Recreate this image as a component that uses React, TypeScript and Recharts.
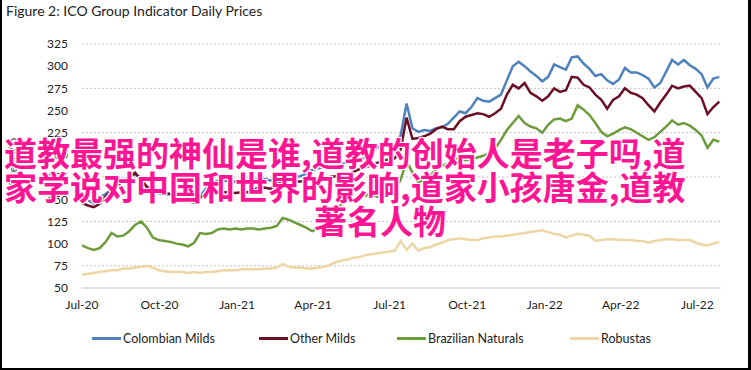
import React from "react";
import { LineChart, Line, XAxis, YAxis, CartesianGrid, Legend } from "recharts";

// weekly readings, starting 1 Jul 2020 (US cents/lb)
const colombianMilds = [
  153, 149, 145, 152, 156, 161, 166, 170, 176, 178, 174, 163, 158, 157, 155, 156, 153, 152, 148, 146,
  153, 162, 168, 171, 172, 169, 170, 167, 168, 171, 174, 173, 171, 174, 179, 177, 175, 176, 179, 183,
  185, 186, 188, 187, 189, 192, 193, 195, 197, 203, 208, 210, 212, 213, 222, 258, 230, 226, 228, 227,
  230, 231, 235, 242, 249, 247, 254, 264, 261, 260, 264, 268, 284, 300, 305, 300, 294, 289, 283, 288,
  302, 299, 296, 310, 311, 303, 297, 289, 291, 284, 280, 285, 298, 293, 293, 290, 286, 276, 281, 294,
  307, 302, 307, 301, 297, 291, 276, 286, 288,
];
const otherMilds = [
  146, 143, 141, 145, 153, 160, 166, 171, 175, 180, 172, 164, 161, 158, 157, 156, 154, 151, 150, 149,
  152, 155, 156, 157, 158, 158, 157, 158, 158, 160, 164, 163, 162, 166, 171, 172, 170, 170, 171, 172,
  173, 174, 175, 176, 177, 178, 181, 184, 186, 188, 191, 193, 195, 196, 206, 242, 218, 219, 221, 224,
  229, 232, 229, 229, 238, 243, 245, 247, 246, 243, 247, 252, 268, 279, 275, 281, 270, 266, 261, 266,
  275, 271, 273, 288, 287, 279, 276, 268, 262, 252, 262, 266, 275, 270, 268, 264, 256, 249, 259, 268,
  278, 275, 277, 278, 271, 264, 246, 254, 260,
];
const brazilianNaturals = [
  98, 95, 93, 95, 102, 112, 108, 109, 114, 121, 125, 118, 107, 104, 103, 102, 100, 99, 97, 101,
  112, 111, 112, 116, 117, 116, 117, 116, 117, 117, 116, 117, 118, 120, 129, 127, 124, 121, 118, 114,
  117, 122, 127, 137, 145, 148, 150, 152, 154, 156, 153, 155, 156, 161, 172, 193, 180, 169, 172, 176,
  184, 188, 190, 195, 196, 194, 195, 197, 199, 202, 207, 217, 228, 236, 244, 236, 232, 230, 225, 234,
  240, 241, 238, 241, 256, 251, 245, 236, 226, 221, 224, 228, 231, 229, 225, 221, 217, 220, 226, 232,
  239, 234, 236, 233, 228, 222, 208, 217, 215,
];
const robustas = [
  65, 66, 67, 68, 69, 70, 70, 72, 72, 73, 74, 75, 73, 70, 69, 68, 68, 68, 67, 68,
  67, 68, 68, 69, 70, 70, 70, 71, 71, 71, 71, 72, 72, 73, 77, 74, 73, 73, 72, 72,
  73, 74, 76, 79, 81, 82, 84, 85, 87, 88, 89, 90, 91, 92, 103, 93, 100, 92, 95, 96,
  99, 101, 104, 105, 106, 105, 104, 104, 106, 107, 108, 108, 109, 110, 111, 112, 113, 114, 115, 113,
  111, 110, 107, 109, 111, 110, 109, 103, 104, 105, 105, 104, 104, 104, 103, 103, 101, 103, 104, 105,
  105, 104, 104, 104, 101, 99, 98, 100, 102,
];

const seriesKeys = ["colombian", "other", "brazilian", "robustas"];
const seriesNames = ["Colombian Milds", "Other Milds", "Brazilian Naturals", "Robustas"];
const seriesColors = ["#4f81bd", "#6b0f25", "#6e9b3c", "#ecd6a3"];

const tickDates = [
  "2020-07-01", "2020-10-01", "2021-01-01", "2021-04-01", "2021-07-01",
  "2021-10-01", "2022-01-01", "2022-04-01", "2022-07-01",
];
const tickLabels = ["Jul-20", "Oct-20", "Jan-21", "Apr-21", "Jul-21", "Oct-21", "Jan-22", "Apr-22", "Jul-22"];
const yTicks = [50, 75, 100, 125, 150, 175, 200, 225, 250, 275, 300, 325];

const START = Date.UTC(2020, 6, 1);
const END = Date.UTC(2022, 6, 29);
const WEEK = 7 * 24 * 3600 * 1000;
const xTicks = tickDates.map((d) => Date.parse(d));

const data = colombianMilds.map((v, i) => ({
  t: START + i * WEEK,
  colombian: v,
  other: otherMilds[i],
  brazilian: brazilianNaturals[i],
  robustas: robustas[i],
}));

const FONT = "Lato, 'Open Sans', sans-serif";
const legendLefts = [92, 259, 397, 570];

function LegendBox() {
  return (
    <div style={{ position: "relative", width: 751, height: 20, fontFamily: FONT, fontSize: 12.5, color: "#222" }}>
      {seriesNames.map((n, i) => (
        <div key={n} style={{ position: "absolute", left: legendLefts[i], top: 0, height: 20, display: "flex", alignItems: "center" }}>
          <span style={{ display: "inline-block", width: 29, height: 3, background: seriesColors[i], marginRight: 2 }} />
          <span>{n}</span>
        </div>
      ))}
    </div>
  );
}

export default function App() {
  return (
    <div style={{ position: "relative", width: 751, height: 370, background: "#fff", overflow: "hidden" }}>
      <style>{"body{margin:0}"}</style>
      <div style={{ position: "absolute", left: 6, top: 2, fontFamily: FONT, fontSize: 14, color: "#222" }}>
        Figure 2: ICO Group Indicator Daily Prices
      </div>
      <LineChart width={751} height={370} data={data} margin={{ top: 44, right: 30, bottom: 52, left: 0 }}>
        <CartesianGrid vertical={false} stroke="#c4c4c4" strokeDasharray="2 2" />
        <XAxis
          dataKey="t"
          type="number"
          domain={[START, END]}
          ticks={xTicks}
          tickFormatter={(v) => tickLabels[xTicks.indexOf(v)] ?? ""}
          tickLine={false}
          tickSize={0}
          tickMargin={12}
          stroke="#d6d6d6"
          tick={{ fill: "#222", fontSize: 12, fontFamily: FONT }}
          height={30}
        />
        <YAxis
          type="number"
          domain={[50, 325]}
          ticks={yTicks}
          axisLine={false}
          tickLine={false}
          tickSize={0}
          tickMargin={14}
          width={82}
          tick={{ fill: "#222", fontSize: 12, fontFamily: FONT }}
        />
        <Legend
          verticalAlign="middle"
          align="center"
          layout="horizontal"
          wrapperStyle={{ top: 328, left: 0, width: 751 }}
          content={() => <LegendBox />}
        />
        {seriesKeys.map((k, i) => (
          <Line
            key={k}
            type="linear"
            dataKey={k}
            name={seriesNames[i]}
            stroke={seriesColors[i]}
            strokeWidth={2.5}
            dot={false}
            isAnimationActive={false}
          />
        ))}
      </LineChart>
      <div
        style={{
          position: "absolute",
          left: 12,
          top: 166,
          transform: "translate(-50%, -50%) rotate(-90deg)",
          fontFamily: FONT,
          fontSize: 11,
          color: "#333",
          whiteSpace: "nowrap",
        }}
      >
        US cents/lb
      </div>
      <div
        style={{
          position: "absolute",
          left: 4,
          top: 135,
          width: 745,
          fontFamily: "'Noto Sans CJK SC', sans-serif",
          fontWeight: 700,
          fontSize: 33,
          lineHeight: "34px",
          color: "#ff1493",
          textShadow: "1px 1px 0 #fff, -1px -1px 0 #fff, 1px -1px 0 #fff, -1px 1px 0 #fff, 0 0 2px #fff",
          whiteSpace: "nowrap",
        }}
      >
        <div>道教最强的神仙是谁,道教的创始人是老子吗,道</div>
        <div>家学说对中国和世界的影响,道家小孩唐金,道教</div>
        <div style={{ paddingLeft: 310 }}>著名人物</div>
      </div>
      <div
        style={{
          position: "absolute",
          inset: 0,
          borderLeft: "2px solid #000",
          borderRight: "3px solid #000",
          borderBottom: "2px solid #000",
          pointerEvents: "none",
        }}
      />
    </div>
  );
}
